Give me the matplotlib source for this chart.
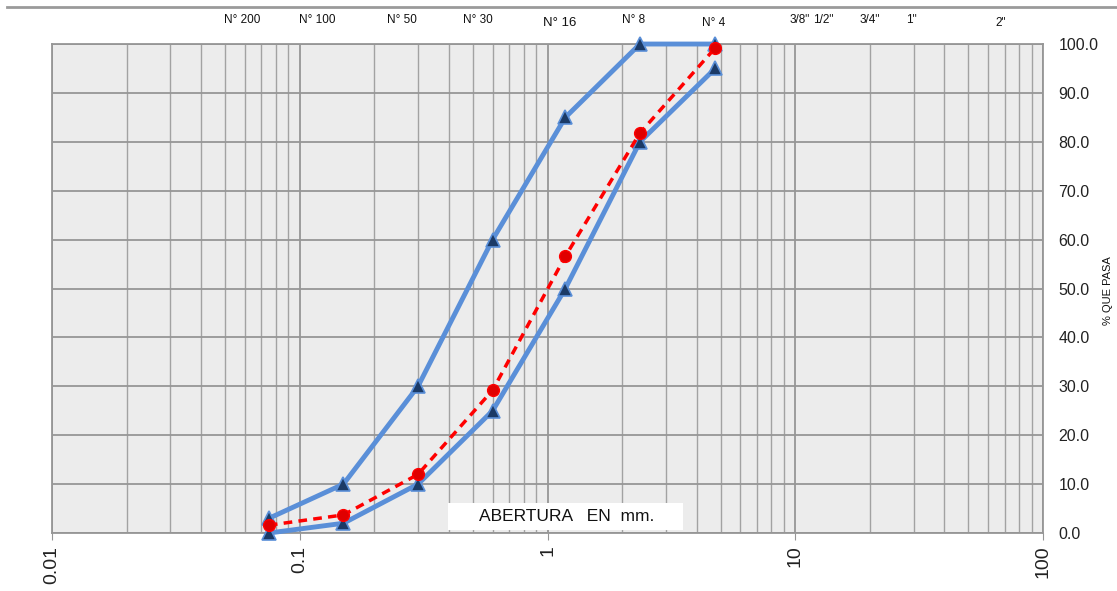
import numpy as np
import matplotlib
matplotlib.use("Agg")
import matplotlib.pyplot as plt
from matplotlib.lines import Line2D
from matplotlib.patches import Rectangle
from matplotlib.ticker import FixedLocator, NullFormatter

plt.rcParams['font.family'] = ['Liberation Sans', 'DejaVu Sans']

# abertura de tamices (mm)
aberturas = [0.075, 0.15, 0.3, 0.6, 1.18, 2.36, 4.75]
lim_superior = [3, 10, 30, 60, 85, 100, 100]
lim_inferior = [0, 2, 10, 25, 50, 80, 95]
muestra = [1.6, 3.7, 12.0, 29.2, 56.6, 81.8, 99.2]

# etiquetas de tamices arriba (texto, posicion en mm)
tamiz_labels = ['N° 200', 'N° 100', 'N° 50', 'N° 30', 'N° 16', 'N° 8', 'N° 4',
                '3/8"', '1/2"', '3/4"', '1"', '2"']
tamiz_pos = [0.0583, 0.118, 0.258, 0.522, 1.117, 2.22, 4.67,
             10.4, 12.97, 19.9, 29.4, 67.7]
x_ticks = [0.01, 0.1, 1, 10, 100]
x_ticklabels = ['0.01', '0.1', '1', '10', '100']
y_ticks = [0, 10, 20, 30, 40, 50, 60, 70, 80, 90, 100]


def main():
    fig = plt.figure(figsize=(11.17, 5.91), dpi=100)
    ax = fig.add_axes([0.0466, 0.0981, 0.8872, 0.8274])
    ax.set_facecolor('#ECECEC')
    ax.set_xscale('log')
    ax.set_xlim(0.01, 100)
    ax.set_ylim(0, 100)

    # grilla
    minors = [m * 10.0 ** e for e in range(-2, 2) for m in range(2, 10)]
    ax.xaxis.set_minor_locator(FixedLocator(minors))
    ax.xaxis.set_minor_formatter(NullFormatter())
    ax.set_xticks(x_ticks)
    ax.set_xticklabels(x_ticklabels, rotation=90, fontsize=14, color='#222222')
    ax.set_yticks(y_ticks)
    ax.set_yticklabels(['%.1f' % v for v in y_ticks], fontsize=11.5, color='#222222')
    ax.yaxis.tick_right()
    ax.grid(True, which='major', color='#969696', linewidth=1.3)
    ax.grid(True, which='minor', axis='x', color='#A2A2A2', linewidth=1.0)
    ax.set_axisbelow(True)
    ax.tick_params(axis='x', which='major', length=5, color='#969696', pad=4)
    ax.tick_params(axis='x', which='minor', length=0)
    ax.tick_params(axis='y', length=0, pad=11)
    for s in ax.spines.values():
        s.set_color('#969696')
        s.set_linewidth(1.3)

    # curvas
    blue = '#5A8FD8'
    navy = '#1B3A66'
    ax.plot(aberturas, lim_superior, color=blue, linewidth=3.5, marker='^',
            markersize=10, markerfacecolor=navy, markeredgecolor=blue,
            markeredgewidth=1.2, zorder=3, clip_on=False)
    ax.plot(aberturas, lim_inferior, color=blue, linewidth=3.5, marker='^',
            markersize=10, markerfacecolor=navy, markeredgecolor=blue,
            markeredgewidth=1.2, zorder=3, clip_on=False)
    ax.plot(aberturas, muestra, color='#FF0000', linewidth=2.5, linestyle=(0, (2.5, 1.8)),
            marker='o', markersize=8.5, markerfacecolor='#E00000',
            markeredgecolor='#FF0000', zorder=4, clip_on=False)

    # etiqueta eje x dentro del grafico
    ax.add_patch(Rectangle((0.400, 0.006), 0.237, 0.056, transform=ax.transAxes,
                           facecolor='white', edgecolor='none', zorder=5))
    ax.text(0.519, 0.034, 'ABERTURA   EN  mm.', transform=ax.transAxes,
            fontsize=12.5, ha='center', va='center', color='#111111', zorder=6)

    # etiquetas de tamices
    for lab, xp in zip(tamiz_labels, tamiz_pos):
        fs = 9.5 if lab == 'N° 16' else 8.5
        ax.text(xp, 1.042 if lab in ('N° 16', 'N° 4', '2"') else 1.05, lab,
                transform=ax.get_xaxis_transform(), ha='center', va='center',
                fontsize=fs, color='#111111')

    fig.text(0.992, 0.508, '% QUE PASA', rotation=90, fontsize=8,
             ha='center', va='center', color='#111111')

    # linea superior del documento
    fig.add_artist(Line2D([0.006, 1.0], [0.988, 0.988], transform=fig.transFigure,
                          color='#9A9A9A', linewidth=2))

    fig.savefig('out.png', dpi=100)


if __name__ == "__main__":
    main()
